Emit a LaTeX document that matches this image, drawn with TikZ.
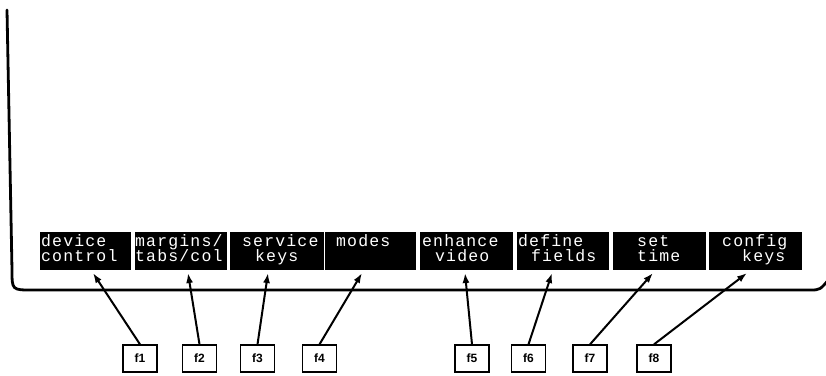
\documentclass[tikz,border=0pt]{standalone}
\usepackage{fontspec}
\setmainfont{Liberation Sans}
\newfontfamily\keyfont[LetterSpace=7]{Liberation Mono}
\usetikzlibrary{arrows.meta}
\begin{document}
\begin{tikzpicture}[x=1pt,y=-1pt,
  softkey/.style={fill=black,draw=none,anchor=north west,inner sep=0pt,
    minimum height=38.5pt},
  keytext/.style={text=white,anchor=base west,inner sep=0pt,
    font=\keyfont\fontsize{16.5}{16.5}\selectfont},
  fkey/.style={draw=black,line width=1.3pt,minimum width=34pt,minimum height=27pt,
    inner sep=0pt,font=\bfseries\fontsize{12}{12}\selectfont},
  pointer/.style={line width=2pt,-{Latex[length=10pt,width=7pt]}},
  screen/.style={line width=2.8pt,line cap=round}]
\useasboundingbox (0,0) rectangle (826,375);

% screen outline
\draw[screen] (7,10) -- (12,270) .. controls (12,290) .. (32,290)
  -- (810,290) .. controls (820,290) .. (830,278);

% soft key labels
\node[softkey,minimum width=91pt] (k1) at (40,231.5) {};
\node[softkey,minimum width=92pt] (k2) at (135,231.5) {};
\node[softkey,minimum width=94pt] (k3) at (230,231.5) {};
\node[softkey,minimum width=91pt] (k4) at (325,231.5) {};
\node[softkey,minimum width=93pt] (k5) at (420,231.5) {};
\node[softkey,minimum width=92pt] (k6) at (517,231.5) {};
\node[softkey,minimum width=93pt] (k7) at (613,231.5) {};
\node[softkey,minimum width=93pt] (k8) at (709,231.5) {};

\path (k1.north west) ++(1,14.5) node[keytext] {device} ++(0,15) node[keytext] {control};
\path (k2.north west) ++(0,14.5) node[keytext] {margins/} ++(0,15) node[keytext] {tabs/col};
\path (k3.north west) ++(12,14.5) node[keytext] {service} ++(13,15) node[keytext] {keys};
\path (k4.north west) ++(11,14.5) node[keytext] {modes};
\path (k5.north west) ++(2,14.5) node[keytext] {enhance} ++(13,15) node[keytext] {video};
\path (k6.north west) ++(1,14.5) node[keytext] {define} ++(13,15) node[keytext] {fields};
\path (k7.north west) ++(24,14.5) node[keytext] {set} ++(0,15) node[keytext] {time};
\path (k8.north west) ++(13,14.5) node[keytext] {config} ++(20,15) node[keytext] {keys};

% function keys
\node[fkey] (f1) at (140,358.5) {f1};
\node[fkey] (f2) at (199.5,358.5) {f2};
\node[fkey] (f3) at (257.5,358.5) {f3};
\node[fkey] (f4) at (319.5,358.5) {f4};
\node[fkey] (f5) at (472,358.5) {f5};
\node[fkey] (f6) at (528.5,358.5) {f6};
\node[fkey] (f7) at (590,358.5) {f7};
\node[fkey] (f8) at (654,358.5) {f8};

% arrow tips just under the labels
\coordinate (t1) at (93,273);
\coordinate (t2) at (188,273);
\coordinate (t3) at (268,273);
\coordinate (t4) at (362,273);
\coordinate (t5) at (465,273);
\coordinate (t6) at (552,273);
\coordinate (t7) at (653,273);
\coordinate (t8) at (747,273);

\draw[pointer] (f1.north) -- (t1);
\draw[pointer] (f2.north) -- (t2);
\draw[pointer] (f3.north) -- (t3);
\draw[pointer] (f4.north) -- (t4);
\draw[pointer] (f5.north) -- (t5);
\draw[pointer] (f6.north) -- (t6);
\draw[pointer] (f7.north) -- (t7);
\draw[pointer] (f8.north) -- (t8);
\end{tikzpicture}
\end{document}
